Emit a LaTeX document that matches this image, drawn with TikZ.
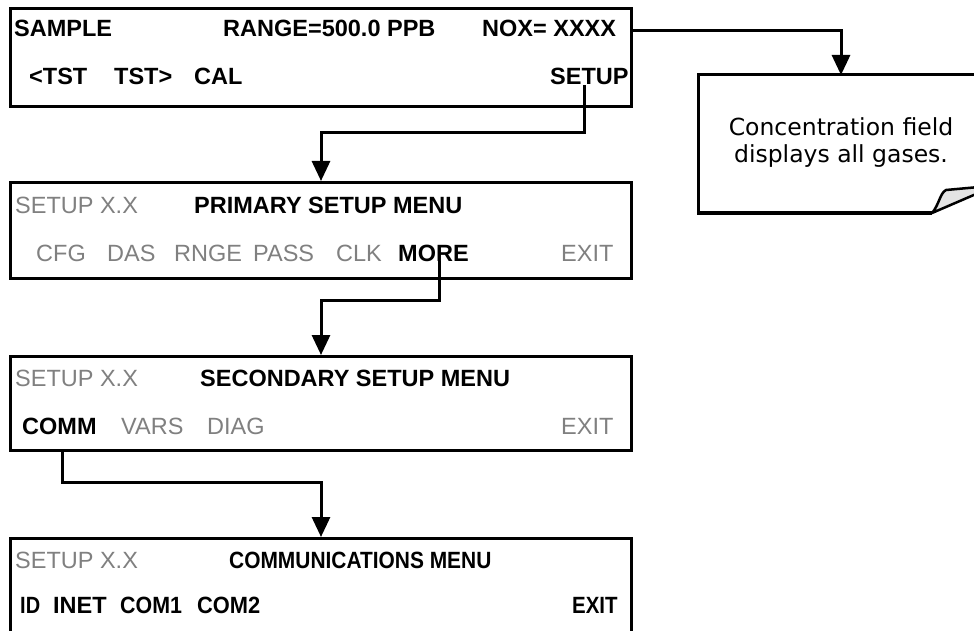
\documentclass[tikz,border=0pt]{standalone}
\usepackage{fontspec}
\usepackage{graphicx}
\setmainfont{Liberation Sans}
\newfontfamily\notefont{DejaVu Sans}
\usetikzlibrary{arrows.meta}
\definecolor{dimtext}{RGB}{128,128,128}
\definecolor{curlfill}{RGB}{228,228,228}
\newcommand\narrowtxt[2]{\scalebox{#1}[1]{#2}}
\tikzset{
  box/.style={draw, line width=3pt, anchor=north west, minimum width=621pt, inner sep=0pt},
  lbl/.style={anchor=base west, inner sep=0pt, font=\fontsize{23.5}{27}\selectfont\bfseries},
  dim/.style={anchor=base west, inner sep=0pt, font=\fontsize{23.5}{27}\selectfont, text=dimtext},
  conn/.style={line width=3pt, -{Triangle[length=20pt,width=18pt]}},
}
\begin{document}
\begin{tikzpicture}[x=1pt,y=-1pt]
\useasboundingbox (0,0) rectangle (974,631);
\clip (0,0) rectangle (974,631);
\fill[white] (0,0) rectangle (974,631);
% boxes
\node[box, minimum height=98pt] (box1) at (9,7) {};
\node[box, minimum height=96pt] (box2) at (9,181) {};
\node[box, minimum height=94pt] (box3) at (9,355) {};
\node[box, minimum height=120pt] (box4) at (9,537) {};
% box 1 text
\node[lbl] (sample) at (14,37) {SAMPLE};
\node[lbl] (range) at (223,37) {RANGE=500.0 PPB};
\node[lbl] (nox) at (482,37) {NOX= XXXX};
\node[lbl] (tstl) at (29,85) {<TST};
\node[lbl] (tstr) at (114,85) {TST>};
\node[lbl] (cal) at (194,85) {CAL};
\node[lbl] (setup) at (550,85) {SETUP};
% box 2 text
\node[dim] (s2) at (15,213) {SETUP X.X};
\node[lbl] (prim) at (194,213) {PRIMARY SETUP MENU};
\node[dim] (cfg) at (36,261) {CFG};
\node[dim] (das) at (107,261) {DAS};
\node[dim] (rnge) at (174,261) {RNGE};
\node[dim] (pass) at (253,261) {PASS};
\node[dim] (clk) at (336,261) {CLK};
\node[lbl] (more) at (398,261) {MORE};
\node[dim] (exit2) at (561,261) {EXIT};
% box 3 text
\node[dim] (s3) at (15,386) {SETUP X.X};
\node[lbl] (sec) at (200,386) {SECONDARY SETUP MENU};
\node[lbl] (comm) at (22,434) {COMM};
\node[dim] (vars) at (121,434) {VARS};
\node[dim] (diag) at (207,434) {DIAG};
\node[dim] (exit3) at (561,434) {EXIT};
% box 4 text
\node[dim] (s4) at (15,568) {SETUP X.X};
\node[lbl] (commmenu) at (229,568) {\narrowtxt{0.89}{COMMUNICATIONS MENU}};
\node[lbl] (id) at (20,613) {\narrowtxt{0.85}{ID}};
\node[lbl] (inet) at (53,613) {INET};
\node[lbl] (com1) at (120,613) {\narrowtxt{0.91}{COM1}};
\node[lbl] (com2) at (197,613) {\narrowtxt{0.93}{COM2}};
\node[lbl] (exit4) at (572,613) {\narrowtxt{0.87}{EXIT}};
% note
\draw[line width=3pt, line join=miter] (990,75) -- (698,75) -- (698,213) -- (932,213);
\filldraw[line width=2.5pt, fill=curlfill, line join=round] (932,213) .. controls (939,205) and (940,193) .. (946,190) -- (990,186) -- (990,188) -- cycle;
\node[font=\notefont\fontsize{23.5}{27}\selectfont, align=center, inner sep=0pt] (notetext) at (841,143) {Concentration field\\displays all gases.};
\coordinate (notetop) at (841,75);
% connectors
\coordinate (b1) at (584,133);
\draw[conn] (b1 |- setup.south) -- (b1) -| (box2.north);
\coordinate (b2) at (439,300);
\draw[conn] (b2 |- more.south) -- (b2) -| (box3.north);
\coordinate (b3) at (62,482);
\draw[conn] (b3 |- box3.south) -- (b3) -| (box4.north);
\draw[conn] (box1.east |- 0,31) -| (notetop);
\end{tikzpicture}
\end{document}
